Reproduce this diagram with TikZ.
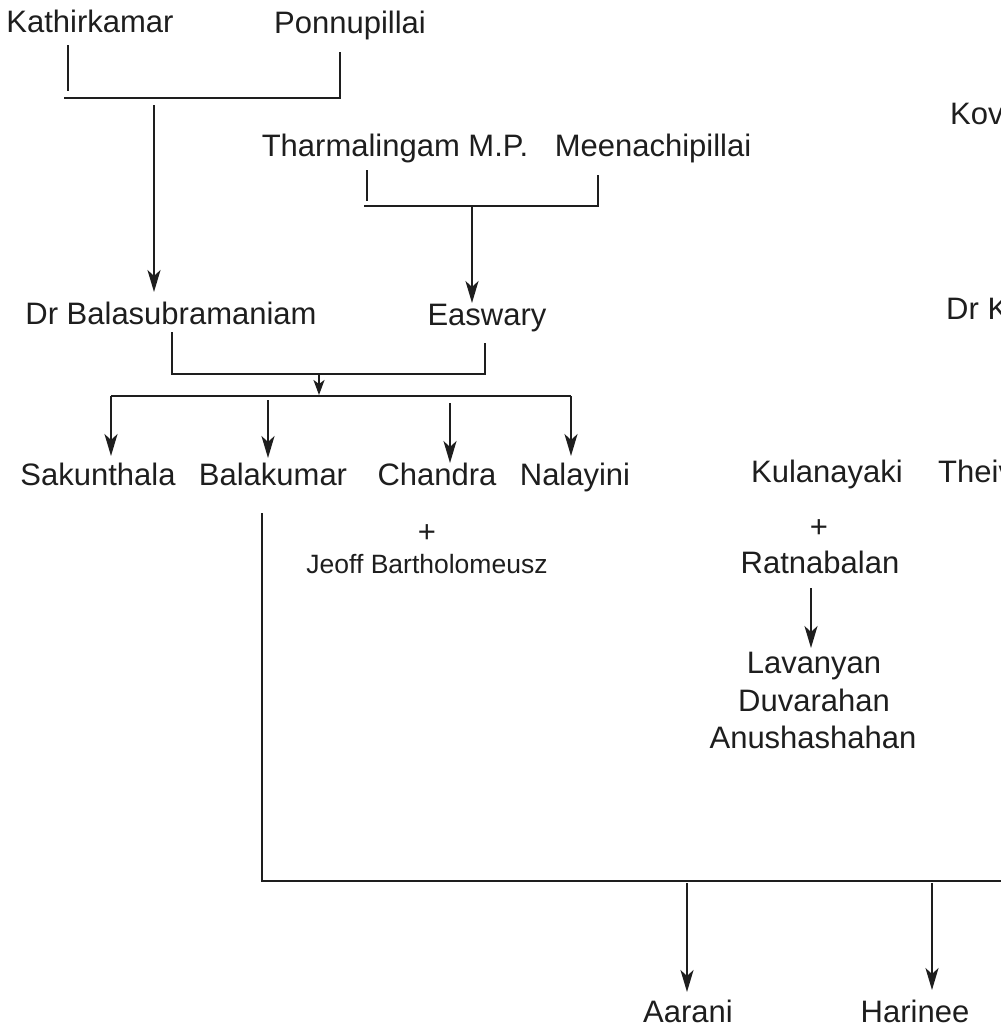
\documentclass[tikz,border=0pt]{standalone}
\usepackage{fontspec}
\setmainfont{Liberation Sans}
\usetikzlibrary{arrows.meta}
\definecolor{ink}{HTML}{1E1E1E}
\begin{document}
\begin{tikzpicture}[x=1pt,y=-1pt,
  person/.style={anchor=base, inner sep=0pt, text=ink, font=\fontsize{31}{37}\selectfont},
  small/.style={person, font=\fontsize{26.5}{31}\selectfont},
  cut/.style={person, anchor=base west},
  line/.style={draw=ink, line width=2.2pt},
  arr/.style={line, -{Stealth[length=22pt,width=13pt,inset=6pt]}}]
\useasboundingbox (0,0) rectangle (1001,1028);
\clip (0,0) rectangle (1001,1028);
\fill[white] (0,0) rectangle (1001,1028);

% generation 1
\node[person] (kath) at (90,32) {Kathirkamar};
\node[person] (ponn) at (350,33) {Ponnupillai};
\coordinate (kt) at (68,45);  \coordinate (kb) at (68,91);
\coordinate (pt) at (340,52); \coordinate (pb) at (340,98);
\coordinate (kpl) at (64,98);
\draw[line] (kt) -- (kb);
\draw[line] (pt) -- (pb) -- (kpl);
\coordinate (kps) at (154,105); \coordinate (kpe) at (154,292);
\draw[arr] (kps) -- (kpe);

\node[person] (thar) at (395,156) {Tharmalingam M.P.};
\node[person] (meen) at (653,156) {Meenachipillai};
\coordinate (tt) at (367,170); \coordinate (tb) at (367,201);
\coordinate (mt) at (598,175); \coordinate (mb) at (598,206);
\coordinate (tml) at (364,206);
\draw[line] (tt) -- (tb);
\draw[line] (mt) -- (mb) -- (tml);
\coordinate (tms) at (472,207); \coordinate (tme) at (472,303);
\draw[arr] (tms) -- (tme);

% right edge (cut off in the original)
\node[cut] (kov) at (950,124) {Kov};
\node[cut] (drk) at (946,319) {Dr K};
\node[cut] (theiv) at (938,482) {Theiv};

% generation 2
\node[person] (bala) at (171,324) {Dr Balasubramaniam};
\node[person] (easw) at (487,325) {Easwary};
\coordinate (bt) at (172,332); \coordinate (bb) at (172,374);
\coordinate (et) at (485,343); \coordinate (eb) at (485,374);
\draw[line] (bt) -- (bb) -- (eb) -- (et);
\coordinate (bes) at (319,374); \coordinate (bee) at (319,395);
\draw[line, -{Stealth[length=15pt,width=11pt,inset=4pt]}] (bes) -- (bee);
\coordinate (rl) at (111,396); \coordinate (rr) at (571,396);
\draw[line] (rl) -- (rr);

% generation 3
\node[person] (sak) at (98,485) {Sakunthala};
\node[person] (balak) at (273,485) {Balakumar};
\node[person] (chan) at (437,485) {Chandra};
\node[person] (nala) at (575,485) {Nalayini};
\node[person] (kula) at (827,482) {Kulanayaki};

\coordinate (s1) at (111,396); \coordinate (s2) at (111,456);
\coordinate (b1) at (268,400); \coordinate (b2) at (268,458);
\coordinate (c1) at (450,403); \coordinate (c2) at (450,463);
\coordinate (n1) at (571,396); \coordinate (n2) at (571,456);
\draw[arr] (s1) -- (s2);
\draw[arr] (b1) -- (b2);
\draw[arr] (c1) -- (c2);
\draw[arr] (n1) -- (n2);

\node[person] (plus1) at (427,542) {+};
\node[small] (jeoff) at (427,573) {Jeoff Bartholomeusz};

\node[person] (plus2) at (819,537) {+};
\node[person] (ratn) at (820,573) {Ratnabalan};
\coordinate (ra1) at (811,588); \coordinate (ra2) at (811,648);
\draw[arr] (ra1) -- (ra2);
\node[person] (lav) at (814,673) {Lavanyan};
\node[person] (duv) at (814,711) {Duvarahan};
\node[person] (anu) at (813,748) {Anushashahan};

% Balakumar's line
\coordinate (bk1) at (262,513); \coordinate (bk2) at (262,881);
\coordinate (bkr) at (1001,881);
\draw[line] (bk1) -- (bk2) -- (bkr);
\coordinate (a1) at (687,883); \coordinate (a2) at (687,992);
\coordinate (h1) at (932,883); \coordinate (h2) at (932,990);
\draw[arr] (a1) -- (a2);
\draw[arr] (h1) -- (h2);

\node[person] (aar) at (688,1022) {Aarani};
\node[person] (har) at (915,1022) {Harinee};
\end{tikzpicture}
\end{document}
